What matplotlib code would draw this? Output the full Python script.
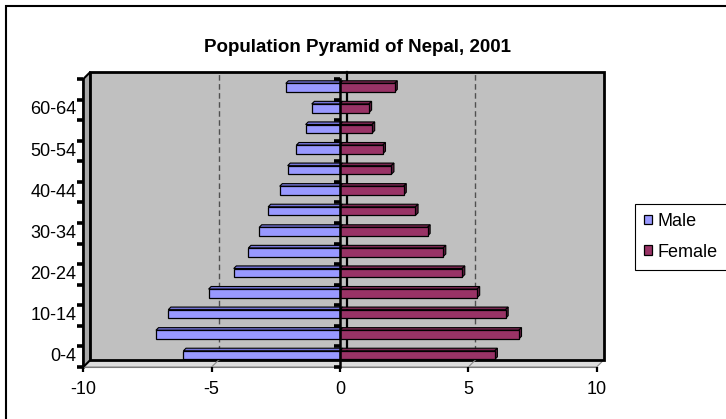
import matplotlib
matplotlib.use("Agg")
import matplotlib.pyplot as plt
from matplotlib.patches import Polygon, Rectangle
from matplotlib.transforms import offset_copy

# ---- data -------------------------------------------------------------
age_groups = ["0-4", "5-9", "10-14", "15-19", "20-24", "25-29", "30-34",
              "35-39", "40-44", "45-49", "50-54", "55-59", "60-64", "65+"]
male = [6.10, 7.17, 6.69, 5.12, 4.14, 3.57, 3.15, 2.80, 2.35, 2.04,
        1.70, 1.34, 1.10, 2.11]
female = [6.03, 6.97, 6.45, 5.34, 4.76, 4.02, 3.41, 2.94, 2.48, 2.00,
          1.67, 1.25, 1.13, 2.13]
shown_labels = ["0-4", "10-14", "20-24", "30-34", "40-44", "50-54", "60-64"]
x_ticks = [-10, -5, 0, 5, 10]
grid_values = [-5, 5]
series_names = ["Male", "Female"]
title = "Population Pyramid of Nepal, 2001"
caption = "Figure 3.1 Population Pyramid of Nepal"

# ---- styling ------------------------------------------------------------
W, H = 726, 419
MALE_FACE, MALE_TOP = "#9999FF", "#7373D6"
FEM_FACE, FEM_TOP, FEM_SIDE = "#993366", "#7A2650", "#5E1C3E"
WALL = "#C0C0C0"
FONT = "Liberation Sans"

fig = plt.figure(figsize=(W / 100, H / 100), dpi=100)

# front plane of the 3-D box, in pixels
AX_L, AX_R, AX_T, AX_B = 83.3, 596.7, 79.0, 367.0
ax = fig.add_axes([AX_L / W, 1 - AX_B / H, (AX_R - AX_L) / W, (AX_B - AX_T) / H])
XMIN, XMAX = -10, 10
n = len(age_groups)
YMIN, YMAX = -0.5, n - 0.5
ax.set_xlim(XMIN, XMAX)
ax.set_ylim(YMIN, YMAX)
ax.axis("off")

def px_x(p):
    return p * (XMAX - XMIN) / (AX_R - AX_L)

def px_y(p):
    return p * (YMAX - YMIN) / (AX_B - AX_T)

DEPTH = 7.0
dx, dy = px_x(DEPTH), px_y(DEPTH)

def poly(pts, **kw):
    p = Polygon(pts, closed=True, clip_on=False, **kw)
    ax.add_patch(p)
    return p

# floor
poly([(XMIN, YMIN), (XMAX, YMIN), (XMAX + dx, YMIN + dy), (XMIN + dx, YMIN + dy)],
     facecolor="#DCDCDC", edgecolor="#8A8A8A", lw=0.8, zorder=1)
# left side wall
poly([(XMIN, YMIN), (XMIN, YMAX), (XMIN + dx, YMAX + dy), (XMIN + dx, YMIN + dy)],
     facecolor="#A8A8A8", edgecolor="black", lw=1.5, zorder=1)
# back wall
ax.add_patch(Rectangle((XMIN + dx, YMIN + dy), XMAX - XMIN, YMAX - YMIN,
                       facecolor=WALL, edgecolor="black", lw=2.0,
                       clip_on=False, zorder=1.5))
# dashed gridlines on the back wall and their traces across the floor
for g in grid_values:
    ax.plot([g + dx, g + dx], [YMIN + dy, YMAX + dy], color="#505050",
            lw=1.0, ls=(0, (4, 2.5)), clip_on=False, zorder=2)
    ax.plot([g, g + dx], [YMIN, YMIN + dy], color="#8A8A8A", lw=0.8,
            clip_on=False, zorder=2)
# zero line on the back wall
ax.plot([dx, dx], [YMIN + dy, YMAX + dy], color="black", lw=1.6,
        clip_on=False, zorder=2)
# front-left edge of the box
ax.plot([XMIN, XMIN], [YMIN, YMAX], color="black", lw=1.8, clip_on=False, zorder=3)
ax.plot([XMIN, XMAX], [YMIN, YMIN], color="#7A7A7A", lw=0.8, clip_on=False, zorder=3)

# ---- bars ---------------------------------------------------------------
ypos = [i + px_y(1.6) for i in range(n)]
BAR_H = px_y(8.6)
bdx, bdy = px_x(2.6), px_y(2.6)

neg_male = [-v for v in male]
bm = ax.barh(ypos, neg_male, height=BAR_H, color=MALE_FACE, edgecolor="black",
             lw=0.9, zorder=4, label=series_names[0])
bf = ax.barh(ypos, female, height=BAR_H, color=FEM_FACE, edgecolor="black",
             lw=0.9, zorder=4, label=series_names[1])

for y, m, f in zip(ypos, neg_male, female):
    top = y + BAR_H / 2
    bot = y - BAR_H / 2
    # male top face
    poly([(m, top), (0, top), (bdx, top + bdy), (m + bdx, top + bdy)],
         facecolor=MALE_TOP, edgecolor="black", lw=0.8, zorder=3.8)
    # female top and end faces
    poly([(0, top), (f, top), (f + bdx, top + bdy), (bdx, top + bdy)],
         facecolor=FEM_TOP, edgecolor="black", lw=0.8, zorder=3.8)
    poly([(f, bot), (f, top), (f + bdx, top + bdy), (f + bdx, bot + bdy)],
         facecolor=FEM_SIDE, edgecolor="black", lw=0.8, zorder=3.9)

# zero axis in front of the bars
ax.plot([0, 0], [YMIN, YMAX], color="black", lw=1.8, clip_on=False, zorder=5)

# category tick marks (boundaries) on the left edge and on the zero axis
bounds = [k - 0.5 for k in range(n + 1)]
for xb in (XMIN, 0):
    ax.plot([xb] * len(bounds), bounds, ls="none", marker=0, ms=4, mew=2.6,
            color="black", clip_on=False, zorder=6)

# value tick marks along the front floor edge
ax.plot(x_ticks, [YMIN] * len(x_ticks), ls="none", marker=3, ms=3.5, mew=1.6,
        color="black", clip_on=False, zorder=6)

# category labels
ylab_tf = offset_copy(ax.transData, fig=fig, x=-7, y=0, units="dots")
for lab in shown_labels:
    i = age_groups.index(lab)
    ax.text(XMIN, i, lab, ha="right", va="center", fontsize=13,
            family=FONT, transform=ylab_tf)

# value labels
xlab_tf = offset_copy(ax.transData, fig=fig, x=0, y=-22, units="dots")
for t in x_ticks:
    ax.text(t, YMIN, f"{t:g}", ha="center", va="center", fontsize=13,
            family=FONT, transform=xlab_tf)

# ---- chart title, legend, border -----------------------------------------
fig.text(358 / W, 1 - 47 / H, title, ha="center", va="center", fontsize=13.5,
         fontweight="bold", family=FONT)

leg = fig.legend(handles=[bm, bf], labels=series_names, loc="upper left",
                 bbox_to_anchor=(635 / W, 1 - 204 / H), frameon=True,
                 fancybox=False, edgecolor="black", framealpha=1,
                 prop={"family": FONT, "size": 13}, handlelength=0.45,
                 handleheight=0.45, handletextpad=0.3, borderpad=0.5,
                 labelspacing=0.75, borderaxespad=0)
leg.get_frame().set_linewidth(0.8)

fig.add_artist(Rectangle((6 / W, -0.05), 1.2, 1 - 6 / H + 0.05,
                         transform=fig.transFigure, fill=False,
                         edgecolor="black", lw=1.5))

# document caption running off the top edge
fig.text(0.0, 1 + 6.5 / H, caption, ha="left", va="baseline", fontsize=17.5,
         fontweight="bold", family="Liberation Serif")

fig.savefig("out.png", dpi=100)
